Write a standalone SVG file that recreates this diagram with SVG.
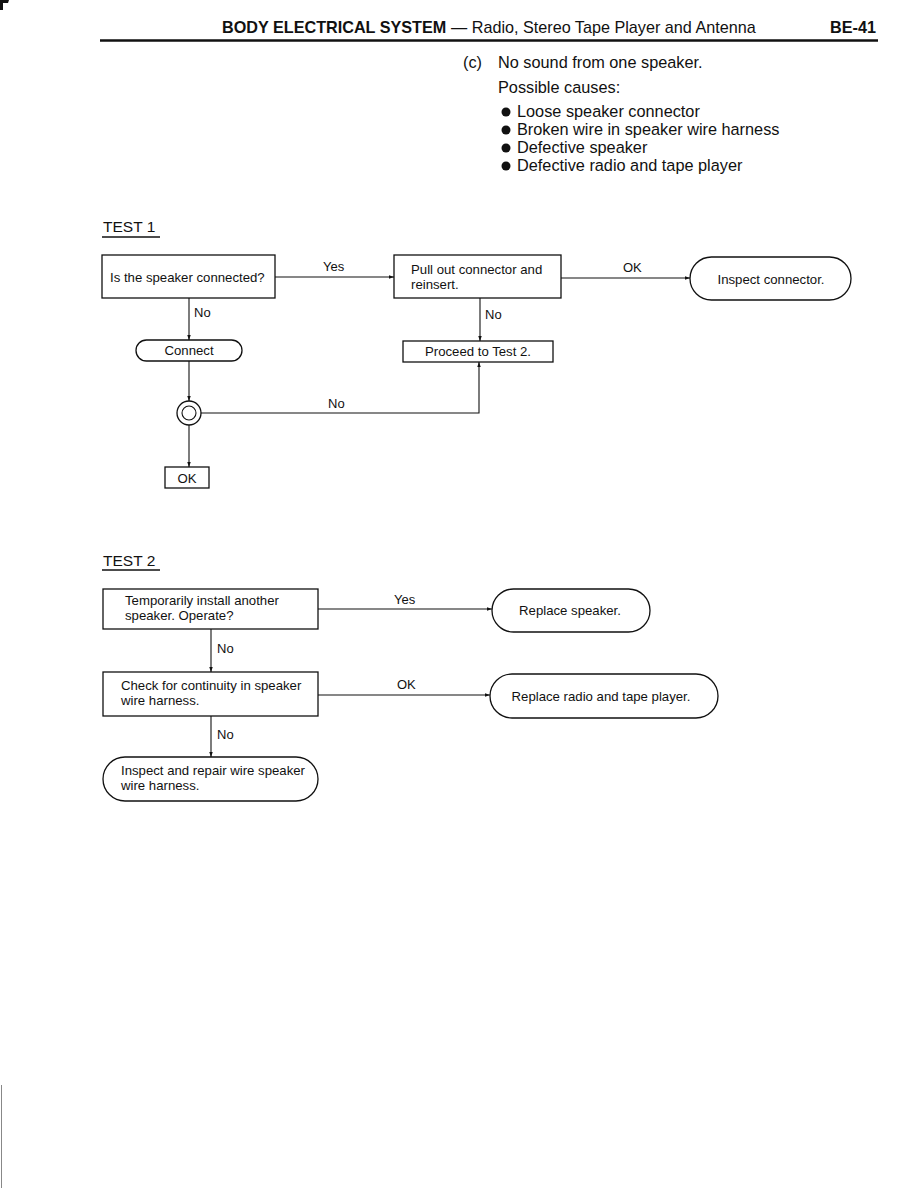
<svg xmlns="http://www.w3.org/2000/svg" width="918" height="1188" viewBox="0 0 918 1188">
<defs>
<style>
text{font-family:"Liberation Sans",Arial,sans-serif;fill:#111}
.hdr{font-size:16.2px}
.b{font-weight:bold}
.body{font-size:16.3px}
.nt{font-size:13.2px}
.lbl{font-size:13px}
.tt{font-size:15.5px}
.box{fill:#fff;stroke:#111;stroke-width:1.3}
.ln{fill:none;stroke:#111;stroke-width:1.1}
.c{text-anchor:middle}
</style>
<marker id="ah" viewBox="0 0 10 10" refX="10" refY="5" markerWidth="7" markerHeight="5" orient="auto" markerUnits="userSpaceOnUse">
<path d="M0,1.5 L10,5 L0,8.5 z" fill="#111"/>
</marker>
</defs>
<rect width="918" height="1188" fill="#fff"/>
<path d="M0,0 H9 L8,3 H3 V10 H0 z" fill="#111"/>
<line x1="1.5" y1="1085" x2="1.5" y2="1188" stroke="#888" stroke-width="1"/>

<g id="header">
<text x="222" y="33" class="hdr"><tspan class="b">BODY ELECTRICAL SYSTEM</tspan><tspan x="451">— Radio, Stereo Tape Player and Antenna</tspan></text>
<text x="830" y="33" class="hdr b">BE-41</text>
<line x1="100" y1="40.5" x2="878" y2="40.5" stroke="#111" stroke-width="2.5"/>
</g>

<g id="intro">
<text x="463" y="68" class="body">(c)</text>
<text x="498" y="68" class="body">No sound from one speaker.</text>
<text x="498" y="93" class="body">Possible causes:</text>
<circle cx="506" cy="112" r="4.5" fill="#111"/>
<text x="517" y="117" class="body">Loose speaker connector</text>
<circle cx="506" cy="130" r="4.5" fill="#111"/>
<text x="517" y="135" class="body">Broken wire in speaker wire harness</text>
<circle cx="506" cy="148" r="4.5" fill="#111"/>
<text x="517" y="153" class="body">Defective speaker</text>
<circle cx="506" cy="166" r="4.5" fill="#111"/>
<text x="517" y="171" class="body">Defective radio and tape player</text>
</g>

<g id="test1-title">
<text x="103" y="232" class="tt">TEST  1</text>
<line x1="102" y1="237" x2="160" y2="237" stroke="#111" stroke-width="1.3"/>
</g>

<g id="connectors">
<line class="ln" x1="275" y1="277" x2="394" y2="277" marker-end="url(#ah)"/>
<line class="ln" x1="561" y1="278" x2="690" y2="278" marker-end="url(#ah)"/>
<line class="ln" x1="189" y1="298" x2="189" y2="340" marker-end="url(#ah)"/>
<line class="ln" x1="480" y1="298" x2="480" y2="341" marker-end="url(#ah)"/>
<line class="ln" x1="189" y1="361" x2="189" y2="401" marker-end="url(#ah)"/>
<polyline class="ln" points="200,413 479,413 479,362" marker-end="url(#ah)"/>
<line class="ln" x1="189" y1="425" x2="189" y2="467" marker-end="url(#ah)"/>
<line class="ln" x1="318" y1="609" x2="492" y2="609" marker-end="url(#ah)"/>
<line class="ln" x1="211" y1="629" x2="211" y2="672" marker-end="url(#ah)"/>
<line class="ln" x1="318" y1="695" x2="490" y2="695" marker-end="url(#ah)"/>
<line class="ln" x1="211" y1="716" x2="211" y2="757" marker-end="url(#ah)"/>
<text x="323" y="271" class="lbl">Yes</text>
<text x="623" y="272" class="lbl">OK</text>
<text x="194" y="317" class="lbl">No</text>
<text x="485" y="319" class="lbl">No</text>
<text x="328" y="408" class="lbl">No</text>
<text x="394" y="604" class="lbl">Yes</text>
<text x="217" y="653" class="lbl">No</text>
<text x="397" y="689" class="lbl">OK</text>
<text x="217" y="739" class="lbl">No</text>
</g>

<g id="n-speaker-connected">
<rect class="box" x="102" y="255" width="173" height="43"/>
<text x="110" y="282" class="nt">Is the speaker connected?</text>
</g>
<g id="n-pull-out">
<rect class="box" x="394" y="255" width="167" height="43"/>
<text x="411" y="274" class="nt">Pull out connector and</text>
<text x="411" y="289" class="nt">reinsert.</text>
</g>
<g id="n-inspect-connector">
<rect class="box" x="690" y="257" width="161" height="43" rx="21.5"/>
<text x="771" y="284" class="nt c">Inspect connector.</text>
</g>
<g id="n-connect">
<rect class="box" x="136" y="340" width="106" height="21" rx="10.5"/>
<text x="189" y="355" class="nt c">Connect</text>
</g>
<g id="n-proceed">
<rect class="box" x="403" y="341" width="150" height="21"/>
<text x="478" y="356" class="nt c">Proceed to Test 2.</text>
</g>
<g id="n-check-circle">
<circle class="box" cx="189" cy="413" r="12"/>
<circle class="ln" cx="189" cy="413" r="7"/>
</g>
<g id="n-ok">
<rect class="box" x="165" y="467" width="44" height="21"/>
<text x="187" y="483" class="nt c">OK</text>
</g>

<g id="test2-title">
<text x="103" y="566" class="tt">TEST  2</text>
<line x1="102" y1="570" x2="160" y2="570" stroke="#111" stroke-width="1.3"/>
</g>

<g id="n-temp-install">
<rect class="box" x="103" y="589" width="215" height="40"/>
<text x="125" y="605" class="nt">Temporarily install another</text>
<text x="125" y="620" class="nt">speaker. Operate?</text>
</g>
<g id="n-replace-speaker">
<rect class="box" x="492" y="589" width="158" height="43" rx="21.5"/>
<text x="570" y="615" class="nt c">Replace speaker.</text>
</g>
<g id="n-check-continuity">
<rect class="box" x="103" y="672" width="215" height="44"/>
<text x="121" y="690" class="nt">Check for continuity in speaker</text>
<text x="121" y="705" class="nt">wire harness.</text>
</g>
<g id="n-replace-radio">
<rect class="box" x="490" y="674" width="228" height="44" rx="22"/>
<text x="601" y="701" class="nt c">Replace radio and tape player.</text>
</g>
<g id="n-inspect-repair">
<rect class="box" x="103" y="757" width="215" height="44" rx="22"/>
<text x="121" y="775" class="nt">Inspect and repair wire speaker</text>
<text x="121" y="790" class="nt">wire harness.</text>
</g>
</svg>
